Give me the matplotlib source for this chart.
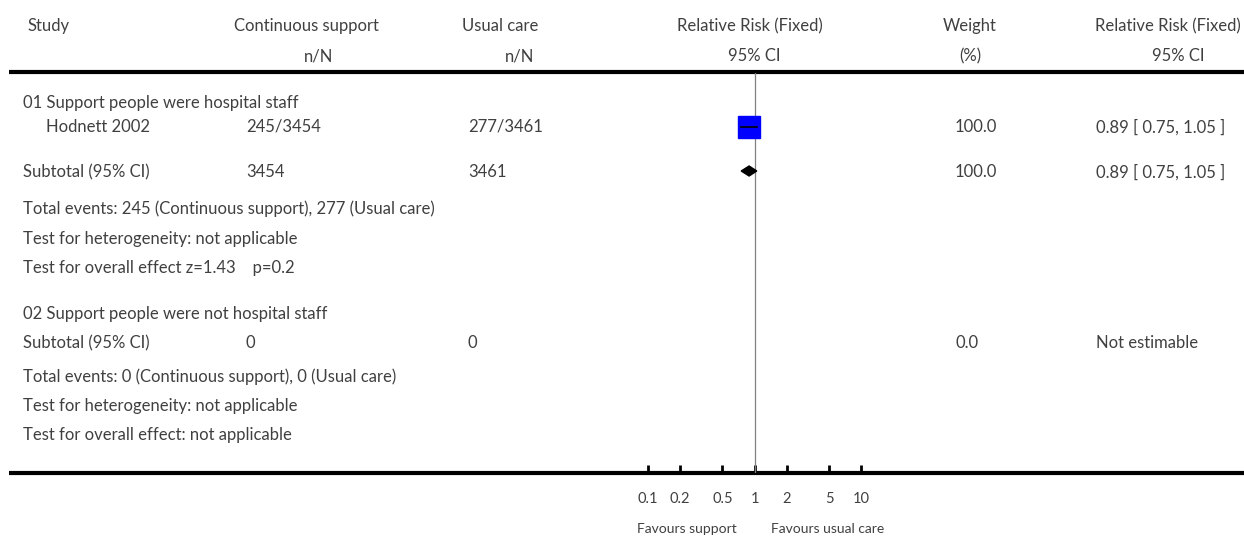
import matplotlib
matplotlib.use('Agg')
import matplotlib.pyplot as plt
from matplotlib.patches import Polygon

# Table data
studies = ['Hodnett 2002']
support_events = [245]
support_total = [3454]
usual_events = [277]
usual_total = [3461]
study_rr = [0.89]
study_lo = [0.75]
study_hi = [1.05]
study_weight = [100.0]

sub_rr = 0.89
sub_lo = 0.75
sub_hi = 1.05

ticks = [0.1, 0.2, 0.5, 1, 2, 5, 10]
tick_labels = ['0.1', '0.2', '0.5', '1', '2', '5', '10']

W, H = 1244, 539
FONT = 'Lato'
FS = 12
TXT = '#404040'

plt.rcParams['font.family'] = [FONT, 'DejaVu Sans']

fig = plt.figure(figsize=(W / 100, H / 100), dpi=100)

# Overlay axes in pixel coordinates for the text table
ax = fig.add_axes([0, 0, 1, 1])
ax.set_xlim(0, W)
ax.set_ylim(H, 0)
ax.axis('off')


def txt(x, y, s, ha='left', size=FS):
    ax.text(x, y, s, ha=ha, va='center', fontsize=size, color=TXT)


# Headers
txt(49, 26, 'Study', ha='center')
txt(306, 26, 'Continuous support', ha='center')
txt(319, 56, 'n/N', ha='center')
txt(500, 26, 'Usual care', ha='center')
txt(520, 56, 'n/N', ha='center')
txt(750, 26, 'Relative Risk (Fixed)', ha='center')
txt(754, 56, '95% CI', ha='center')
txt(970, 26, 'Weight', ha='center')
txt(970, 56, '(%)', ha='center')
txt(1168, 26, 'Relative Risk (Fixed)', ha='center')
txt(1178, 56, '95% CI', ha='center')

ax.plot([9, W], [72, 72], color='black', lw=3, solid_capstyle='butt')
ax.plot([9, W], [473, 473], color='black', lw=3, solid_capstyle='butt')

# Group 1
txt(23, 103, '01 Support people were hospital staff')
study_y = [127]
for i, name in enumerate(studies):
    y = study_y[i]
    txt(46, y, name)
    txt(246, y, f'{support_events[i]}/{support_total[i]}')
    txt(468, y, f'{usual_events[i]}/{usual_total[i]}')
    txt(955, y, f'{study_weight[i]:.1f}')
    txt(1096, y, f'{study_rr[i]:.2f} [ {study_lo[i]:.2f}, {study_hi[i]:.2f} ]')

txt(23, 172, 'Subtotal (95% CI)')
txt(246, 172, f'{sum(support_total)}')
txt(468, 172, f'{sum(usual_total)}')
txt(955, 172, f'{sum(study_weight):.1f}')
txt(1096, 172, f'{sub_rr:.2f} [ {sub_lo:.2f}, {sub_hi:.2f} ]')
txt(23, 209, f'Total events: {sum(support_events)} (Continuous support), {sum(usual_events)} (Usual care)')
txt(23, 239, 'Test for heterogeneity: not applicable')
txt(23, 268, 'Test for overall effect z=1.43    p=0.2')

# Group 2
txt(23, 314, '02 Support people were not hospital staff')
txt(23, 343, 'Subtotal (95% CI)')
txt(246, 343, '0')
txt(468, 343, '0')
txt(955, 343, '0.0')
txt(1096, 343, 'Not estimable')
txt(23, 377, 'Total events: 0 (Continuous support), 0 (Usual care)')
txt(23, 406, 'Test for heterogeneity: not applicable')
txt(23, 435, 'Test for overall effect: not applicable')

# Forest plot axes (log scale), y in the same pixel units
x0, x1, y_top, y_bot = 648, 861, 73, 473
fax = fig.add_axes([x0 / W, (H - y_bot) / H, (x1 - x0) / W, (y_bot - y_top) / H])
fax.patch.set_alpha(0)
fax.set_xscale('log')
fax.set_xlim(0.1, 10)
fax.set_ylim(y_bot, y_top)
for s in fax.spines.values():
    s.set_visible(False)
fax.set_yticks([])
fax.set_xticks(ticks)
fax.set_xticklabels(tick_labels)
fax.minorticks_off()
fax.tick_params(axis='x', direction='in', length=6, width=2, pad=14,
                labelsize=10.5, labelcolor=TXT)

fax.axvline(1, color='#808080', lw=0.9)

for i in range(len(studies)):
    y = study_y[i]
    fax.plot(study_rr[i], y, marker='s', ms=16, color='#0000ff', mec='#0000ff', zorder=2)
    fax.plot([study_lo[i], study_hi[i]], [y, y], color='black', lw=1.2, zorder=3)

dia = Polygon([(sub_lo, 171), (sub_rr, 166), (sub_hi, 171), (sub_rr, 176)],
              closed=True, color='black', zorder=3)
fax.add_patch(dia)

txt(737, 529, 'Favours support', ha='right', size=10)
txt(771, 529, 'Favours usual care', size=10)

fig.savefig('out.png', dpi=100)
